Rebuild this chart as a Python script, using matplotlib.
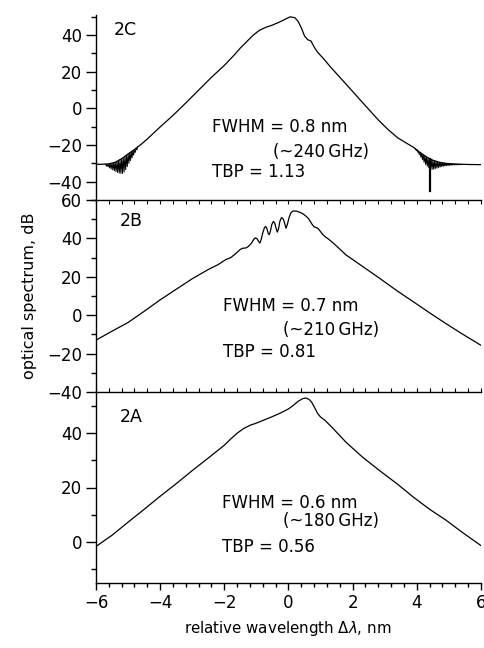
import matplotlib
matplotlib.use("Agg")
import matplotlib.pyplot as plt
from matplotlib.ticker import MultipleLocator, FixedLocator

plt.rcParams['font.family'] = ['DejaVu Sans']
plt.rcParams['mathtext.fontset'] = 'dejavusans'

# ---------------- data ----------------
# Panel 2C
c_x = [-6.0, -5.8, -5.6, -5.4, -5.2, -5.0, -4.8, -4.6, -4.4, -4.2, -4.0, -3.6, -3.2, -2.8,
       -2.4, -2.0, -1.7, -1.5, -1.3, -1.1, -0.9, -0.7, -0.5, -0.3, -0.1, 0.05, 0.2, 0.3,
       0.4, 0.5, 0.6, 0.7, 0.8, 0.9, 1.1, 1.3, 1.6, 1.9, 2.2, 2.5, 2.8, 3.1, 3.4, 3.7,
       3.9, 4.1, 4.3, 4.5, 4.7, 4.9, 5.2, 5.6, 6.0]
c_y = [-30.5, -30.5, -30.3, -29.4, -27.4, -24.9, -22.4, -19.7, -16.7, -13.4, -10.1, -3.8,
       3.0, 10.0, 17.0, 23.5, 29.0, 33.0, 36.5, 40.0, 42.7, 44.3, 45.5, 47.0, 48.7, 50.0,
       49.5, 47.5, 44.0, 39.5, 37.5, 36.8, 33.5, 30.8, 27.0, 22.8, 17.0, 11.2, 5.3, -0.5,
       -6.3, -11.5, -16.0, -19.2, -21.3, -24.0, -26.5, -28.3, -29.4, -30.0, -30.4, -30.6,
       -30.7]
# fringe ripple on the left wing of 2C
c_rip_l_x = [-5.700, -5.675, -5.650, -5.625, -5.600, -5.575, -5.550, -5.525, -5.500, -5.475,
             -5.450, -5.425, -5.400, -5.375, -5.350, -5.325, -5.300, -5.275, -5.250, -5.225,
             -5.200, -5.175, -5.150, -5.125, -5.100, -5.075, -5.050, -5.025, -5.000, -4.975,
             -4.950, -4.925, -4.900, -4.875, -4.850, -4.825, -4.800, -4.775, -4.750, -4.725,
             -4.700]
c_rip_l_y = [-30.4, -31.5, -30.4, -31.9, -30.3, -32.5, -30.1, -33.0, -29.9, -33.6,
             -29.6, -34.0, -29.4, -34.6, -28.9, -35.0, -28.4, -35.3, -27.9, -35.5,
             -27.4, -35.5, -26.8, -34.8, -26.2, -33.5, -25.5, -31.8, -24.9, -30.0,
             -24.3, -28.5, -23.6, -27.0, -23.0, -25.5, -22.4, -24.0, -21.7, -22.6,
             -21.0]
# fringe ripple on the right wing of 2C
c_rip_r_x = [3.950, 3.975, 4.000, 4.025, 4.050, 4.075, 4.100, 4.125, 4.150, 4.175,
             4.200, 4.225, 4.250, 4.275, 4.300, 4.325, 4.350, 4.375, 4.400, 4.425,
             4.450, 4.475, 4.500, 4.525, 4.550, 4.575, 4.600, 4.625, 4.650, 4.675,
             4.700, 4.725, 4.750, 4.775, 4.800, 4.825, 4.850, 4.875, 4.900, 4.925,
             4.950, 4.975, 5.000, 5.025, 5.050, 5.075, 5.100, 5.125, 5.150, 5.175,
             5.200, 5.225, 5.250, 5.275, 5.300, 5.325, 5.350, 5.375, 5.400]
c_rip_r_y = [-21.9, -22.8, -22.6, -23.9, -23.3, -25.2, -24.0, -26.6, -24.6, -28.0,
             -25.3, -29.4, -25.9, -30.6, -26.5, -31.6, -27.0, -32.4, -27.4, -33.1,
             -27.9, -33.3, -28.3, -33.2, -28.6, -32.9, -28.9, -32.6, -29.1, -32.3,
             -29.4, -32.0, -29.5, -31.8, -29.7, -31.6, -29.8, -31.4, -30.0, -31.3,
             -30.0, -31.2, -30.1, -31.1, -30.2, -31.0, -30.3, -30.9, -30.3, -30.9,
             -30.4, -30.8, -30.4, -30.8, -30.45, -30.75, -30.5, -30.7, -30.5]
c_spike_x = [4.42, 4.42]
c_spike_y = [-27.5, -45.0]

# Panel 2B
b_x = [-6.0, -5.5, -5.0, -4.5, -4.0, -3.5, -3.0, -2.5, -2.2, -1.95, -1.8, -1.65, -1.5,
       -1.42, -1.33, -1.25, -1.15, -1.08, -1.03, -0.98, -0.93, -0.89, -0.85, -0.80, -0.75,
       -0.71, -0.67, -0.63, -0.60, -0.56, -0.52, -0.47, -0.43, -0.39, -0.35, -0.31, -0.27,
       -0.22, -0.17, -0.12, -0.08, -0.04, 0.02, 0.08, 0.15, 0.25, 0.35, 0.45, 0.55, 0.62,
       0.68, 0.74, 0.80, 0.87, 0.93, 1.0, 1.07, 1.14, 1.25, 1.4, 1.8, 2.3, 2.85, 3.4, 3.9,
       4.4, 4.9, 5.4, 6.0]
b_y = [-13.0, -8.3, -3.8, 2.0, 8.0, 13.5, 19.0, 23.8, 26.3, 29.0, 30.0, 32.0, 34.3,
       34.9, 35.0, 35.8, 37.6, 39.6, 40.3, 39.8, 38.4, 37.6, 39.5, 43.0, 45.6,
       46.2, 45.0, 42.5, 41.9, 44.0, 47.3, 48.8, 48.0, 45.5, 43.3, 45.0, 48.8,
       50.8, 50.3, 48.0, 45.3, 47.0, 51.0, 53.5, 54.3, 54.2, 53.6, 52.8, 51.5, 50.4,
       48.8, 47.2, 46.0, 45.6, 45.0, 43.5, 42.0, 40.9, 39.6, 37.5, 31.3, 25.5, 19.1, 12.5,
       6.9, 1.2, -4.3, -9.6, -15.7]

# Panel 2A
a_x = [-6.0, -5.5, -5.0, -4.5, -4.0, -3.5, -3.0, -2.5, -2.0, -1.8, -1.6, -1.4, -1.2,
       -1.0, -0.75, -0.5, -0.25, 0.0, 0.15, 0.3, 0.45, 0.55, 0.65, 0.72, 0.8, 0.9, 1.0,
       1.14, 1.4, 1.8, 2.3, 2.85, 3.4, 3.9, 4.4, 4.9, 5.4, 6.0]
a_y = [-1.6, 2.5, 7.3, 12.0, 16.8, 21.4, 26.2, 30.8, 35.5, 37.8, 39.9, 41.6, 42.8,
       43.6, 44.8, 46.0, 47.3, 48.8, 50.1, 51.6, 52.6, 52.8, 52.2, 51.3, 49.6, 47.3, 45.8,
       44.6, 41.5, 36.5, 31.2, 26.1, 21.2, 16.4, 12.0, 8.1, 3.7, -1.3]

panel_labels = ["2C", "2B", "2A"]
fwhm_texts = ["FWHM = 0.8 nm", "FWHM = 0.7 nm", "FWHM = 0.6 nm"]
ghz_texts = ["(~240\u2009GHz)", "(~210\u2009GHz)", "(~180\u2009GHz)"]
tbp_texts = ["TBP = 1.13", "TBP = 0.81", "TBP = 0.56"]

x_ticks = [-6, -4, -2, 0, 2, 4, 6]
c_yticks = [-40, -20, 0, 20, 40]
b_yticks = [-40, -20, 0, 20, 40, 60]
a_yticks = [0, 20, 40]

# ---------------- figure ----------------
W, H = 485, 648
fig = plt.figure(figsize=(W / 100, H / 100), dpi=100)

L = 96 / W
Wd = (481 - 96) / W
def fy(p):
    return 1 - p / H

axC = fig.add_axes([L, fy(200), Wd, fy(15) - fy(200)])
axB = fig.add_axes([L, fy(392), Wd, fy(200) - fy(392)])
axA = fig.add_axes([L, fy(583), Wd, fy(392) - fy(583)])

lw = 0.9
axC.plot(c_x, c_y, color='black', lw=lw)
axC.plot(c_rip_l_x, c_rip_l_y, color='black', lw=0.7)
axC.plot(c_rip_r_x, c_rip_r_y, color='black', lw=0.7)
axC.plot(c_spike_x, c_spike_y, color='black', lw=1.6)
axB.plot(b_x, b_y, color='black', lw=lw)
axA.plot(a_x, a_y, color='black', lw=lw)

axC.set_ylim(-50, 51)
axB.set_ylim(-40, 60)
axA.set_ylim(-15, 55)

fs_tick = 12
fs_txt = 12
for ax, yt in ((axC, c_yticks), (axB, b_yticks), (axA, a_yticks)):
    ax.set_xlim(-6, 6)
    ax.set_facecolor('none')
    ax.spines['right'].set_visible(False)
    ax.spines['top'].set_visible(False)
    for s in ('left', 'bottom'):
        ax.spines[s].set_linewidth(1.0)
    ax.yaxis.set_major_locator(FixedLocator(yt))
    ax.yaxis.set_minor_locator(MultipleLocator(10))
    ax.xaxis.set_major_locator(FixedLocator(x_ticks))
    ax.xaxis.set_minor_locator(MultipleLocator(0.4))
    ax.tick_params(axis='y', which='major', direction='out', length=7, width=1.0,
                   labelsize=fs_tick, pad=3)
    ax.tick_params(axis='y', which='minor', direction='out', length=3.5, width=1.0)

axC.tick_params(axis='x', which='both', bottom=False, labelbottom=False)
axB.tick_params(axis='x', which='both', bottom=True, top=True, direction='in',
                labelbottom=False, length=3, width=0.8)
axA.tick_params(axis='x', which='major', direction='out', length=5, width=1.0,
                labelsize=fs_tick, pad=3)
axA.tick_params(axis='x', which='minor', direction='out', length=3, width=1.0)

axA.set_xticklabels(["\u22126", "\u22124", "\u22122", "0", "2", "4", "6"])
for ax, yt in ((axC, c_yticks), (axB, b_yticks), (axA, a_yticks)):
    ax.set_yticklabels([("\u2212%d" % -v) if v < 0 else "%d" % v for v in yt])

# panel labels and annotations
axC.text(-5.09, 42.9, panel_labels[0], fontsize=12.5, ha='center', va='center')
axB.text(-4.9, 49.3, panel_labels[1], fontsize=12.5, ha='center', va='center')
axA.text(-4.9, 45.8, panel_labels[2], fontsize=12.5, ha='center', va='center')

axC.text(-2.39, -10.2, fwhm_texts[0], fontsize=fs_txt, ha='left', va='center')
axC.text(-0.47, -23.6, ghz_texts[0], fontsize=fs_txt, ha='left', va='center')
axC.text(-2.39, -34.9, tbp_texts[0], fontsize=fs_txt, ha='left', va='center')

axB.text(-2.03, 4.7, fwhm_texts[1], fontsize=fs_txt, ha='left', va='center')
axB.text(-0.17, -7.8, ghz_texts[1], fontsize=fs_txt, ha='left', va='center')
axB.text(-2.03, -19.3, tbp_texts[1], fontsize=fs_txt, ha='left', va='center')

axA.text(-2.08, 14.3, fwhm_texts[2], fontsize=fs_txt, ha='left', va='center')
axA.text(-0.18, 7.8, ghz_texts[2], fontsize=fs_txt, ha='left', va='center')
axA.text(-2.08, -1.8, tbp_texts[2], fontsize=fs_txt, ha='left', va='center')

fig.text(30 / W, fy(296), "optical spectrum, dB", rotation=90, ha='center', va='center',
         fontsize=11.5)
fig.text(288 / W, fy(629), r"relative wavelength $\Delta\lambda$, nm", ha='center',
         va='center', fontsize=10.8)

fig.savefig("out.png", dpi=100)
